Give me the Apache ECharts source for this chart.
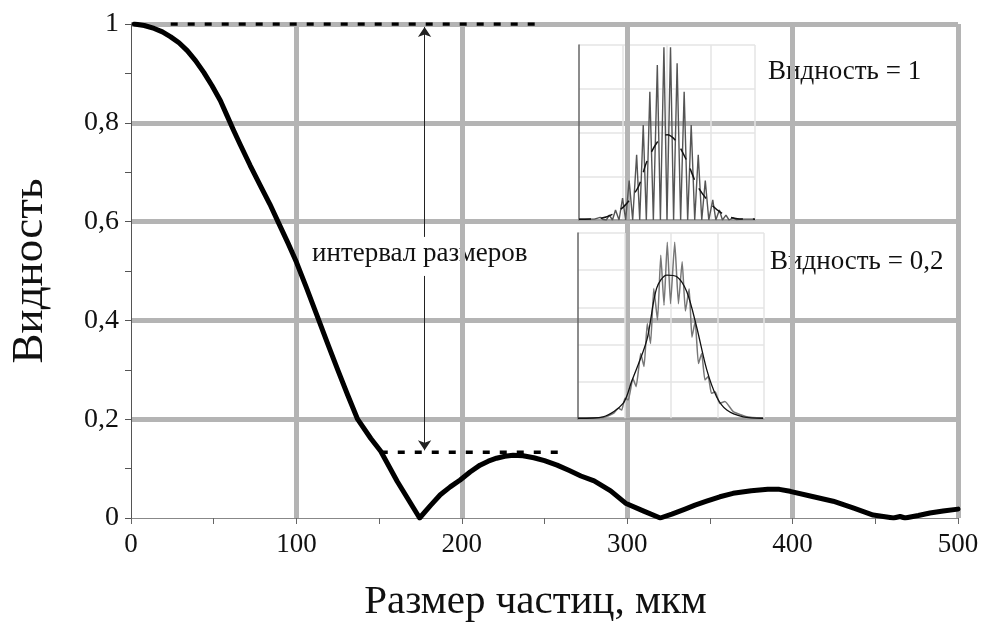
<!DOCTYPE html>
<html>
<head>
<meta charset="utf-8">
<script src="https://cdn.jsdelivr.net/npm/echarts@6/dist/echarts.min.js"></script>
<style>
  html, body {margin: 0; padding: 0; background: #fff;}
  #chart {width: 984px; height: 628px;}
</style>
</head>
<body>
<div id="chart"></div>
<script>
// main curve: visibility vs particle size (um)
const sizeUm = [2, 8, 14, 19, 24, 29, 34, 39, 44, 49, 54, 58, 62, 66, 72, 78.5, 84, 89, 95, 100, 106, 113, 119, 125, 131, 137,
  145, 151, 161, 174.5,
  181, 187, 193, 199, 205, 211, 216, 221, 226, 231, 237, 243.5, 250, 257.6, 265, 272, 280, 290, 299, 310, 320,
  327, 335, 341, 348, 356, 364, 375, 385, 392, 398.5, 410, 424.5, 437, 448.7, 461, 465, 468, 476, 483, 491, 500];
const visibility = [1.0, 0.997, 0.991, 0.984, 0.974, 0.962, 0.946, 0.926, 0.902, 0.875, 0.845, 0.815, 0.785, 0.756, 0.714,
  0.671, 0.635, 0.599, 0.556, 0.518, 0.467, 0.405, 0.352, 0.300, 0.249, 0.200,
  0.161, 0.135, 0.074, 0.0,
  0.025, 0.047, 0.063, 0.077, 0.093, 0.107, 0.115, 0.121, 0.125, 0.127, 0.126, 0.122, 0.116, 0.107, 0.096, 0.085, 0.075,
  0.055, 0.030, 0.014, 0.0,
  0.008, 0.018, 0.026, 0.034, 0.043, 0.050, 0.055, 0.058, 0.058, 0.054, 0.045, 0.034, 0.02, 0.006, 0.0, 0.003, 0.0, 0.005,
  0.010, 0.014, 0.018];

// dashed levels and the size-interval arrow
const topLevel = [[24, 1], [246, 1]];
const lowLevel = [[151, 0.133], [263, 0.133]];
const arrowUp = [[177.5, 0.569], [177.5, 0.994]];
const arrowDown = [[177.5, 0.49], [177.5, 0.137]];

const xTicks = [0, 100, 200, 300, 400, 500];
const yTicks = [0, 0.2, 0.4, 0.6, 0.8, 1];

// inset 1 (visibility = 1): fringes and envelope, in inset grid units
const fringe1 = [[0, 0.02], [0.35, 0.02], [0.48, 0.06], [0.55, 0.01], [0.62, 0.0], [0.69, 0.11], [0.76, 0], [0.83, 0.23],
  [0.91, 0], [0.99, 0.5], [1.06, 0], [1.14, 0.9], [1.22, 0], [1.31, 1.49], [1.38, 0], [1.46, 2.17], [1.53, 0], [1.61, 2.93],
  [1.69, 0], [1.78, 3.54], [1.85, 0], [1.93, 3.95], [2.0, 0], [2.08, 3.95], [2.15, 0], [2.23, 3.58], [2.31, 0], [2.39, 2.93],
  [2.47, 0], [2.55, 2.17], [2.63, 0], [2.71, 1.49], [2.79, 0], [2.87, 0.9], [2.95, 0], [3.04, 0.46], [3.11, 0], [3.19, 0.23],
  [3.26, 0], [3.34, 0.11], [3.41, 0], [3.5, 0.05], [3.58, 0.01], [3.7, 0.02], [4, 0.02]];
const envelope1 = [[0, 0.02], [0.5, 0.04], [0.8, 0.15], [1.05, 0.34], [1.35, 0.76], [1.54, 1.33], [1.8, 1.81], [2.0, 1.95],
  [2.2, 1.81], [2.46, 1.33], [2.7, 0.76], [3.02, 0.34], [3.3, 0.12], [3.6, 0.03], [4, 0.02]];

// inset 2 (visibility = 0.2)
const fringe2 = [[0.01, 0.02], [0.54, 0.04], [0.76, 0.15], [0.87, 0.29], [0.94, 0.24], [1.01, 0.56], [1.08, 0.51], [1.18, 1.09],
  [1.25, 0.87], [1.35, 1.76], [1.42, 1.41], [1.49, 2.57], [1.56, 2.03], [1.63, 3.51], [1.71, 2.66], [1.78, 4.40], [1.85, 3.06],
  [1.92, 4.75], [1.99, 3.1], [2.08, 4.75], [2.16, 3.1], [2.24, 4.23], [2.31, 2.9], [2.39, 3.5], [2.45, 2.2], [2.52, 2.62],
  [2.59, 1.49], [2.66, 1.76], [2.73, 1.05], [2.80, 1.14], [2.87, 0.69], [2.95, 0.73], [3.05, 0.42], [3.16, 0.47], [3.34, 0.2],
  [3.63, 0.06], [3.98, 0.02]];
const envelope2 = [[0, 0.02], [0.54, 0.06], [0.97, 0.42], [1.15, 1.0], [1.48, 2.12], [1.69, 3.51], [1.91, 3.87], [2.12, 3.83],
  [2.34, 3.42], [2.55, 2.48], [2.77, 1.32], [2.98, 0.60], [3.20, 0.24], [3.55, 0.06], [3.98, 0.02]];

const serif = '"Liberation Serif", "Times New Roman", serif';
const chart = echarts.init(document.getElementById('chart'));

const insetX = (idx) => ({
  type: 'value', gridIndex: idx, min: 0, max: 4, interval: 1,
  axisLabel: {show: false}, axisTick: {show: false},
  axisLine: {show: true, lineStyle: {color: '#999', width: 1.5}},
  splitLine: {show: true, showMinLine: false, lineStyle: {color: '#e4e4e4', width: 1.5}}
});
const insetY = (idx, max) => ({
  type: 'value', gridIndex: idx, min: 0, max: max, interval: 1,
  axisLabel: {show: false}, axisTick: {show: false},
  axisLine: {show: true, lineStyle: {color: '#666', width: 1.5}},
  splitLine: {show: true, showMinLine: false, lineStyle: {color: '#e4e4e4', width: 1.5}}
});

const option = {
  backgroundColor: '#fff',
  animation: false,
  grid: [
    {left: 130, right: 26, top: 24, bottom: 108},
    {left: 579, top: 45, width: 176, height: 175},
    {left: 578, top: 233, width: 186, height: 186}
  ],
  xAxis: [{
    type: 'value', gridIndex: 0, min: xTicks[0], max: xTicks[xTicks.length - 1], interval: 100,
    name: 'Размер частиц, мкм', nameLocation: 'middle', nameGap: 64,
    nameTextStyle: {fontFamily: serif, fontSize: 41, color: '#111', padding: [0, 18, 0, 0]},
    axisLine: {lineStyle: {color: '#888', width: 1}},
    axisTick: {show: true, length: 6, lineStyle: {color: '#666'}},
    minorTick: {show: true, splitNumber: 2, length: 6, lineStyle: {color: '#666'}},
    axisLabel: {fontFamily: serif, fontSize: 27, color: '#111', margin: 13},
    splitLine: {show: true, showMinLine: false, lineStyle: {color: '#b4b4b4', width: 5}}
  }, insetX(1), insetX(2)],
  yAxis: [{
    type: 'value', gridIndex: 0, min: yTicks[0], max: yTicks[yTicks.length - 1], interval: 0.2,
    name: 'Видность', nameLocation: 'middle', nameGap: 78,
    nameTextStyle: {fontFamily: serif, fontSize: 45, color: '#111'},
    axisLine: {lineStyle: {color: '#555', width: 1}},
    axisTick: {show: true, length: 6, lineStyle: {color: '#555'}},
    minorTick: {show: true, splitNumber: 2, length: 6, lineStyle: {color: '#555'}},
    axisLabel: {fontFamily: serif, fontSize: 28, color: '#111', margin: 12,
      formatter: (v) => String(v).replace('.', ',')},
    splitLine: {show: true, showMinLine: false, lineStyle: {color: '#b4b4b4', width: 5}}
  }, insetY(1, 4), insetY(2, 5)],
  graphic: [
    {type: 'text', left: 768, top: 58, style: {text: 'Видность = 1', font: '27px ' + serif, fill: '#111'}},
    {type: 'text', left: 770, top: 248, style: {text: 'Видность = 0,2', font: '27px ' + serif, fill: '#111'}},
    {type: 'text', left: 312, top: 240, style: {text: 'интервал размеров', font: '27px ' + serif, fill: '#111'}}
  ],
  series: [
    {
      type: 'line', xAxisIndex: 0, yAxisIndex: 0, symbol: 'none', z: 5,
      data: sizeUm.map((s, i) => [s, visibility[i]]),
      lineStyle: {color: '#000', width: 5, join: 'round', cap: 'round'}
    },
    {type: 'line', xAxisIndex: 0, yAxisIndex: 0, symbol: 'none', data: topLevel,
      lineStyle: {color: '#000', width: 3.5, type: [7, 10]}},
    {type: 'line', xAxisIndex: 0, yAxisIndex: 0, symbol: 'none', data: lowLevel,
      lineStyle: {color: '#000', width: 3.5, type: [7, 10]}},
    {
      type: 'lines', coordinateSystem: 'cartesian2d', xAxisIndex: 0, yAxisIndex: 0,
      symbol: ['none', 'arrow'], symbolSize: [7, 10],
      lineStyle: {color: '#222', width: 1, opacity: 1},
      data: [{coords: arrowUp}, {coords: arrowDown}]
    },
    {type: 'line', xAxisIndex: 1, yAxisIndex: 1, symbol: 'none', data: fringe1,
      lineStyle: {color: '#555', width: 1.4}},
    {type: 'line', xAxisIndex: 1, yAxisIndex: 1, symbol: 'none', data: envelope1, smooth: 0.3,
      lineStyle: {color: '#111', width: 1.5, type: [12, 10]}},
    {type: 'line', xAxisIndex: 2, yAxisIndex: 2, symbol: 'none', data: fringe2, smooth: 0.15,
      lineStyle: {color: '#777', width: 1.5}},
    {type: 'line', xAxisIndex: 2, yAxisIndex: 2, symbol: 'none', data: envelope2, smooth: 0.3,
      lineStyle: {color: '#111', width: 1.3}}
  ]
};
chart.setOption(option);
</script>
</body>
</html>
